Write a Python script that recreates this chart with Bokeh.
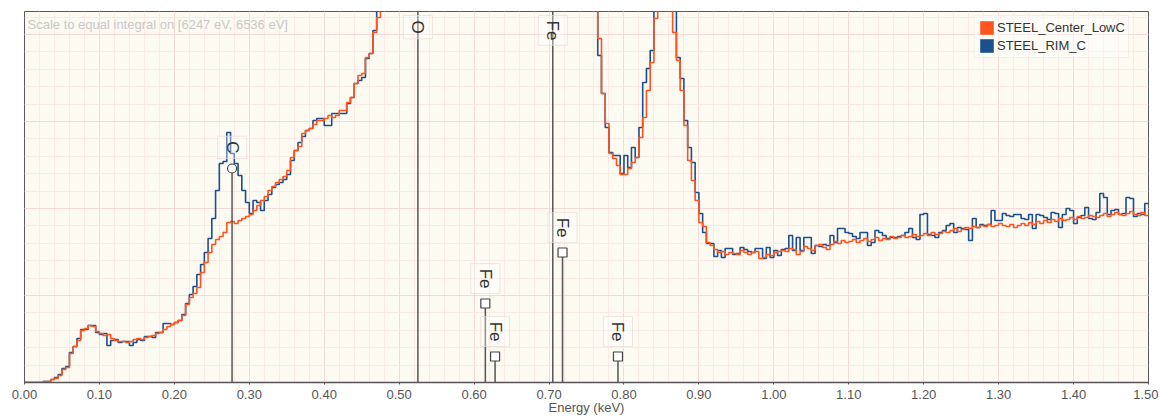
import math
from bokeh.plotting import figure
from bokeh.models import (Range1d, SingleIntervalTicker, NumeralTickFormatter,
                          Legend, LegendItem, Label)
from bokeh.core.properties import value
from bokeh.embed import file_html
from bokeh.resources import INLINE

# ---------------- data ----------------
bin_width = 0.005          # keV
energy_start = 0.0
energy_end = 1.5
series_names = ["STEEL_Center_LowC", "STEEL_RIM_C"]

# counts per 5 eV bin (arbitrary units); peaks off scale are estimates
off_scale_peak = [420, 480, 560, 650, 760, 880, 990, 1080, 1120, 1090,
                  1010, 910, 820, 740, 680, 630, 600, 580, 560, 550,
                  545, 545, 550, 560, 580, 610, 650, 700, 760, 830,
                  910, 1000, 1100, 1210, 1320, 1420, 1500, 1560, 1600, 1610,
                  1590, 1540, 1470, 1380, 1280, 1170, 1060, 950, 850, 760,
                  680, 610, 550, 500, 460, 430, 400, 390]

center_lowc_low = [0, 0, 0, 0, 0, 1, 1, 3, 4, 7,
                   13, 15, 29, 36, 42, 52, 54, 57, 56, 51,
                   49, 47, 48, 44, 42, 41, 41, 40, 41, 43,
                   44, 43, 45, 46, 47, 49, 50, 53, 56, 58,
                   60, 62, 67, 78, 85, 89, 95, 110, 120, 130,
                   138, 143, 146, 150, 160, 161, 159, 162, 164, 166,
                   168, 172, 177, 182, 186, 192, 196, 200, 203, 206,
                   212, 225, 232, 236, 249, 252, 254, 258, 262, 262,
                   264, 267, 265, 267, 272, 272, 280, 285, 299, 307,
                   309, 325, 329, 350, 365]
center_lowc_mid = [344, 289, 259, 229, 224, 217, 208,
                   208, 214, 220, 225, 245, 265, 292, 320, 364,
                   420, 480, 470, 410,
                   350, 322, 292, 257, 222, 202, 182]
center_lowc_high = [160, 156, 140, 137, 133, 130, 131, 128, 130, 129,
                    128, 132, 130, 128, 130, 131, 124, 125, 128, 127,
                    130, 131, 132, 131, 134, 133, 128, 131, 136, 134,
                    132, 137, 138, 135, 133, 138, 141, 139, 142, 140,
                    141, 143, 140, 142, 144, 141, 143, 145, 142, 144,
                    143, 146, 144, 145, 147, 145, 146, 148, 146, 147,
                    149, 147, 150, 148, 149, 151, 150, 152, 154, 151,
                    153, 155, 154, 156, 155, 157, 156, 158, 156, 157,
                    159, 157, 156, 158, 155, 157, 159, 157, 160, 158,
                    161, 159, 162, 160, 163, 161, 164, 162, 163, 165,
                    163, 166, 164, 165, 167, 166, 165, 167, 169, 166,
                    168, 170, 168, 167, 169, 171, 168, 167, 170, 167]

rim_c_low = [0, 0, 0, 0, 0, 1, 1, 3, 5, 8,
             14, 16, 30, 36, 44, 53, 53, 57, 57, 50,
             48, 49, 37, 42, 43, 40, 41, 41, 37, 40,
             43, 42, 46, 46, 45, 50, 50, 59, 59, 58,
             60, 62, 68, 79, 88, 96, 108, 118, 130, 144,
             164, 192, 219, 221, 250, 229, 219, 207, 192, 180,
             169, 182, 180, 172, 182, 188, 195, 198, 200, 203,
             208, 222, 232, 240, 246, 252, 254, 262, 264, 264,
             257, 257, 269, 269, 269, 269, 279, 285, 299, 302,
             305, 324, 329, 352, 372]
rim_c_mid = [327, 289, 255, 230, 227, 227, 209,
             227, 215, 235, 225, 255, 300, 314, 332,
             390, 440, 500, 490, 430, 380,
             325, 304, 262, 235, 220, 190]
rim_c_high = [169, 150, 139, 139, 126, 132, 125, 134, 134, 128,
              129, 135, 133, 131, 130, 134, 134, 124, 135, 125,
              132, 127, 133, 134, 147, 132, 145, 132, 145, 145,
              129, 137, 136, 138, 137, 147, 140, 154, 154, 150,
              149, 146, 144, 150, 150, 137, 140, 152, 150, 147,
              144, 145, 145, 146, 147, 150, 154, 145, 143, 168,
              169, 148, 147, 145, 150, 152, 157, 159, 150, 155,
              154, 153, 142, 164, 155, 158, 157, 158, 172, 162,
              162, 169, 167, 166, 168, 168, 164, 163, 168, 154,
              168, 167, 165, 163, 170, 169, 155, 168, 174, 172,
              159, 165, 167, 175, 164, 163, 170, 189, 185, 168,
              172, 173, 168, 169, 185, 184, 166, 169, 168, 179]

center_lowc = center_lowc_low + off_scale_peak + center_lowc_mid + center_lowc_high
rim_c = rim_c_low + off_scale_peak + rim_c_mid + rim_c_high

# X-ray line markers
line_labels = ["C", "O", "Fe", "Fe", "Fe", "Fe", "Fe"]
line_energies = [0.277, 0.525, 0.705, 0.718, 0.615, 0.628, 0.792]
line_heights = [214, 1000, 1000, 130, 79, 26, 26]
line_markers = ["circle", "none", "none", "square", "square", "square", "square"]

tick_step = 0.1
y_max = 371
note_text = "Scale to equal integral on [6247 eV, 6536 eV]"

# ---------------- figure ----------------
ORANGE = "#ff5320"
BLUE = "#1b4f8e"
FONT = "Liberation Sans"

p = figure(width=1158, height=417, output_backend="svg", toolbar_location=None,
           x_range=Range1d(energy_start, energy_end), y_range=Range1d(0, y_max),
           min_border_left=24, min_border_right=10, min_border_top=11, min_border_bottom=35)
p.background_fill_color = "#fcfaf1"
p.border_fill_color = "white"
p.outline_line_color = "#5a5a5a"
p.outline_line_width = 1

# grids
p.xaxis.ticker = SingleIntervalTicker(interval=tick_step, num_minor_ticks=5)
p.xgrid.ticker = SingleIntervalTicker(interval=tick_step, num_minor_ticks=5)
p.ygrid.ticker = SingleIntervalTicker(interval=87, num_minor_ticks=5)
for g in (p.xgrid, p.ygrid):
    g.grid_line_color = "#f6d9d7"
    g.grid_line_width = 1
    g.minor_grid_line_color = "#fae9e5"
    g.minor_grid_line_width = 1

p.yaxis.visible = False
ax = p.xaxis[0]
ax.formatter = NumeralTickFormatter(format="0.00")
ax.axis_label = "Energy (keV)"
ax.axis_label_text_font = FONT
ax.axis_label_text_font_style = "normal"
ax.axis_label_text_font_size = "13px"
ax.axis_label_text_color = "#555555"
ax.axis_label_standoff = -2
ax.major_label_text_font = FONT
ax.major_label_text_font_size = "13px"
ax.major_label_text_color = "#555555"
ax.major_label_standoff = 3
ax.axis_line_color = "#555555"
ax.axis_line_width = 1.5
ax.major_tick_line_color = "#555555"
ax.major_tick_out = 2
ax.major_tick_in = 0
ax.minor_tick_line_color = None

# spectra as histograms
n = len(center_lowc)
edges = [round(energy_start + bin_width * i, 4) for i in range(n + 1)]
assert len(rim_c) == n == 300, (len(center_lowc), len(rim_c))

p.step(edges, rim_c + [rim_c[-1]], mode="after", line_color=BLUE, line_width=1.6)
p.step(edges, center_lowc + [center_lowc[-1]], mode="after", line_color=ORANGE, line_width=1.6)

# X-ray lines
p.segment(x0=line_energies, y0=[0] * len(line_energies), x1=line_energies, y1=line_heights,
          line_color="#555555", line_width=1.5)

circ_x = [e for e, m in zip(line_energies, line_markers) if m == "circle"]
circ_y = [h for h, m in zip(line_heights, line_markers) if m == "circle"]
sq_x = [e for e, m in zip(line_energies, line_markers) if m == "square"]
sq_y = [h for h, m in zip(line_heights, line_markers) if m == "square"]
p.scatter(circ_x, circ_y, marker="circle", size=9, fill_color="white", line_color="#444444", line_width=1.2)
p.scatter(sq_x, sq_y, marker="square", size=9, fill_color="white", line_color="#444444", line_width=1.2)

on_x, on_y, on_t, off_x, off_t = [], [], [], [], []
for lab, e, h in zip(line_labels, line_energies, line_heights):
    if h < y_max:
        on_x.append(e); on_y.append(h + 10); on_t.append(lab)
    else:
        off_x.append(e); off_t.append(lab)

label_style = dict(angle=-math.pi / 2, text_font=value(FONT), text_font_size="17px",
                   text_color="#333333", text_baseline="middle",
                   background_fill_color="white", background_fill_alpha=0.35,
                   border_line_color="#ecdcd6", border_line_alpha=0.7, padding=5)
p.text(x=on_x, y=on_y, text=on_t, text_align="right", **label_style)
p.text(x=off_x, y=[y_max - 4] * len(off_x), text=off_t, text_align="left", **label_style)

# note
p.add_layout(Label(x=0.004, y=358, text=note_text, text_font=FONT, text_font_size="13px",
                   text_color="#c9c9c9", text_baseline="middle"))

# legend with square swatches (one swatch row each, placed outside the visible range)
r1 = p.quad(left=[energy_start - 1], right=[energy_start - 0.9], top=[-1], bottom=[-2],
            fill_color=ORANGE, line_color=None)
r2 = p.quad(left=[energy_start - 1], right=[energy_start - 0.9], top=[-1], bottom=[-2],
            fill_color=BLUE, line_color=None)
legend = Legend(items=[LegendItem(label=series_names[0], renderers=[r1]),
                       LegendItem(label=series_names[1], renderers=[r2])],
                location=(950, 324), orientation="vertical",
                glyph_width=17, glyph_height=17, spacing=1, padding=3, margin=0,
                label_standoff=2, label_text_font=FONT, label_text_font_size="13px",
                label_text_color="#333333", border_line_color="#efe0da",
                background_fill_color="white", background_fill_alpha=0.45)
p.add_layout(legend)

open("out.html", "w").write(file_html(p, INLINE))
